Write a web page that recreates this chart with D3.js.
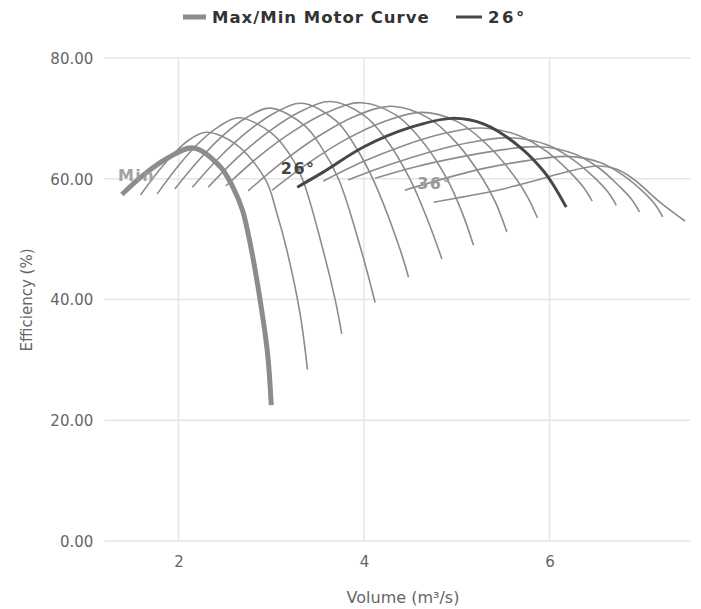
<!DOCTYPE html>
<html><head><meta charset="utf-8">
<script src="https://cdn.jsdelivr.net/npm/d3@7"></script>
<style>body{margin:0;background:#fff}svg{display:block}</style>
</head><body>
<svg id="chart" width="701" height="609"></svg>
<script>
// ---- data ----
const xTicks = [2, 4, 6];
const yTicks = [0, 20, 40, 60, 80];
const legendLabels = ["Max/Min Motor Curve", "26°"];
const curveAngles = [10, 12, 14, 16, 18, 20, 22, 24, 26, 28, 30, 32, 34, 36];
const labelledAngles = [26, 36];

const minMotorCurve = [[1.39,57.4],[1.62,60.6],[1.88,63.4],[2.16,65.1],[2.45,62.0],[2.59,58.5],[2.69,54.8],[2.78,48.7],[2.88,39.9],[2.96,31.1],[3.0,22.5]];
const curve10 = [[1.59,57.3],[1.77,61.0],[1.945,64.1],[2.12,66.5],[2.30,67.7],[2.62,65.7],[2.94,59.8],[3.06,54.3],[3.16,48.7],[3.31,37.7],[3.39,28.4]];
const curve12 = [[1.77,57.5],[1.99,62.0],[2.21,65.8],[2.43,68.6],[2.65,70.1],[3.0,67.6],[3.2,64.0],[3.34,59.8],[3.55,48.7],[3.69,39.9],[3.76,34.3]];
const curve14 = [[1.96,58.3],[2.22,63.1],[2.475,67.1],[2.73,70.1],[2.99,71.7],[3.36,68.8],[3.55,65.0],[3.73,59.8],[3.96,48.7],[4.12,39.5]];
const curve16 = [[2.15,58.6],[2.445,63.6],[2.74,67.75],[3.035,70.9],[3.33,72.5],[3.7,69.6],[3.9,65.5],[4.10,59.8],[4.38,48.7],[4.48,43.7]];
const curve18 = [[2.32,58.6],[2.65,63.7],[2.98,67.9],[3.31,71.1],[3.64,72.8],[4.0,70.5],[4.25,66.3],[4.50,59.8],[4.69,53.0],[4.84,46.7]];
const curve20 = [[2.51,58.8],[2.875,63.8],[3.24,67.9],[3.605,71.0],[3.97,72.6],[4.35,70.5],[4.65,65.8],[4.90,59.8],[5.06,54.3],[5.18,49.0]];
const curve22 = [[2.75,58.0],[3.14,63.0],[3.525,67.2],[3.91,70.4],[4.30,72.0],[4.7,70.0],[5.0,65.9],[5.28,60.0],[5.42,56.0],[5.54,51.2]];
const curve24 = [[3.01,58.1],[3.41,62.7],[3.815,66.6],[4.22,69.5],[4.62,71.0],[5.0,69.5],[5.35,65.3],[5.64,60.0],[5.77,56.8],[5.87,53.5]];
const curve26 = [[3.28,58.6],[3.56,61.1],[4.0,65.3],[4.5,68.5],[4.95,70.0],[5.3,69.0],[5.7,65.0],[5.95,61.0],[6.04,59.0],[6.18,55.3]];
const curve28 = [[3.56,59.6],[3.985,62.8],[4.41,65.4],[4.835,67.4],[5.26,68.4],[5.68,67.1],[5.98,64.4],[6.22,61.1],[6.36,58.7],[6.46,56.3]];
const curve30 = [[3.83,59.8],[4.27,62.3],[4.705,64.4],[5.14,66.0],[5.58,66.8],[5.98,65.6],[6.26,63.1],[6.49,60.1],[6.63,57.8],[6.72,55.6]];
const curve32 = [[4.12,60.1],[4.56,62.0],[5.005,63.5],[5.45,64.7],[5.89,65.3],[6.27,64.1],[6.54,61.7],[6.75,58.8],[6.88,56.7],[6.97,54.5]];
const curve34 = [[4.44,58.1],[4.88,60.1],[5.32,61.8],[5.76,63.0],[6.2,63.7],[6.56,62.6],[6.81,60.4],[7.02,57.7],[7.14,55.7],[7.22,53.7]];
const curve36 = [[4.75,56.1],[5.07,57.0],[5.44,58.1],[5.80,59.5],[6.15,61.0],[6.52,62.1],[6.72,61.6],[6.9,60.0],[7.2,56.0],[7.46,53.0]];

const angleCurves = [curve10, curve12, curve14, curve16, curve18, curve20, curve22, curve24, curve26, curve28, curve30, curve32, curve34, curve36];

// ---- drawing ----
const svg = d3.select("#chart");
const FONT = "'DejaVu Sans', Verdana, sans-serif";
const x = d3.scaleLinear().domain([1.2, 7.52]).range([104.3, 690.5]);
const y = d3.scaleLinear().domain([0, 80]).range([541, 58]);

// grid
const grid = svg.append("g");
grid.selectAll("line.h").data(yTicks).join("line")
  .attr("x1", x.range()[0]).attr("x2", x.range()[1])
  .attr("y1", d => y(d)).attr("y2", d => y(d))
  .attr("stroke", "#e6e6e6").attr("stroke-width", 1.5);
grid.selectAll("line.v").data(xTicks).join("line")
  .attr("x1", d => x(d)).attr("x2", d => x(d))
  .attr("y1", y(0)).attr("y2", y(80))
  .attr("stroke", "#e6e6e6").attr("stroke-width", 1.5);

// axes (labels only)
const yAxis = d3.axisLeft(y).tickValues(yTicks).tickFormat(d3.format(".2f")).tickSize(0).tickPadding(11);
svg.append("g").attr("transform", `translate(${x.range()[0]},0)`).call(yAxis)
  .call(g => g.select(".domain").remove())
  .selectAll("text").attr("font-family", FONT).attr("font-size", 15).attr("fill", "#666").attr("dy", "0.35em");
const xAxis = d3.axisBottom(x).tickValues(xTicks).tickFormat(d3.format("d")).tickSize(0).tickPadding(15);
svg.append("g").attr("transform", `translate(0,${y(0)})`).call(xAxis)
  .call(g => g.select(".domain").remove())
  .selectAll("text").attr("font-family", FONT).attr("font-size", 15).attr("fill", "#666");

svg.append("text").attr("x", 403).attr("y", 603).attr("text-anchor", "middle")
  .attr("font-family", FONT).attr("font-size", 16).attr("fill", "#666").text("Volume (m³/s)");
svg.append("text").attr("transform", "translate(32,300) rotate(-90)").attr("text-anchor", "middle")
  .attr("font-family", FONT).attr("font-size", 15).attr("fill", "#666").text("Efficiency (%)");

const line = d3.line().x(d => x(d[0])).y(d => y(d[1])).curve(d3.curveCatmullRom.alpha(0.5));

// thin angle curves
const curvesG = svg.append("g");
angleCurves.forEach((pts, i) => {
  if (curveAngles[i] === 26) return;
  curvesG.append("path").attr("d", line(pts)).attr("fill", "none")
    .attr("stroke", "#8c8c8c").attr("stroke-width", 1.6);
});
// motor curve
curvesG.append("path").attr("d", line(minMotorCurve)).attr("fill", "none")
  .attr("stroke", "#8c8c8c").attr("stroke-width", 5).attr("stroke-linecap", "butt");
// highlighted 26°
curvesG.append("path").attr("d", line(curve26)).attr("fill", "none")
  .attr("stroke", "#474747").attr("stroke-width", 3);

// curve labels
const lblG = svg.append("g").attr("font-family", FONT).attr("font-weight", "bold").attr("font-size", 16).attr("letter-spacing", "1.5px");
lblG.append("text").attr("x", x(minMotorCurve[0][0]) - 4).attr("y", y(minMotorCurve[0][1]) - 13)
  .attr("fill", "#999").attr("opacity", 0.9).text("Min");
labelledAngles.forEach(a => {
  const pts = angleCurves[curveAngles.indexOf(a)];
  lblG.append("text").attr("x", x(pts[0][0]) + 1).attr("y", y(pts[0][1]) - 13)
    .attr("text-anchor", "middle")
    .attr("fill", a === 26 ? "#444" : "#999").text(a + "°");
});

// legend
const lg = svg.append("g").attr("font-family", FONT).attr("font-weight", "bold").attr("font-size", 16.5).attr("letter-spacing", "1px").attr("fill", "#333");
lg.append("line").attr("x1", 183).attr("x2", 206).attr("y1", 17).attr("y2", 17).attr("stroke", "#8c8c8c").attr("stroke-width", 5);
lg.append("text").attr("x", 212).attr("y", 23).text(legendLabels[0]);
lg.append("line").attr("x1", 456).attr("x2", 482).attr("y1", 17).attr("y2", 17).attr("stroke", "#474747").attr("stroke-width", 3);
lg.append("text").attr("x", 488).attr("y", 23).attr("letter-spacing", "2.5px").text(legendLabels[1]);
</script>
</body></html>
